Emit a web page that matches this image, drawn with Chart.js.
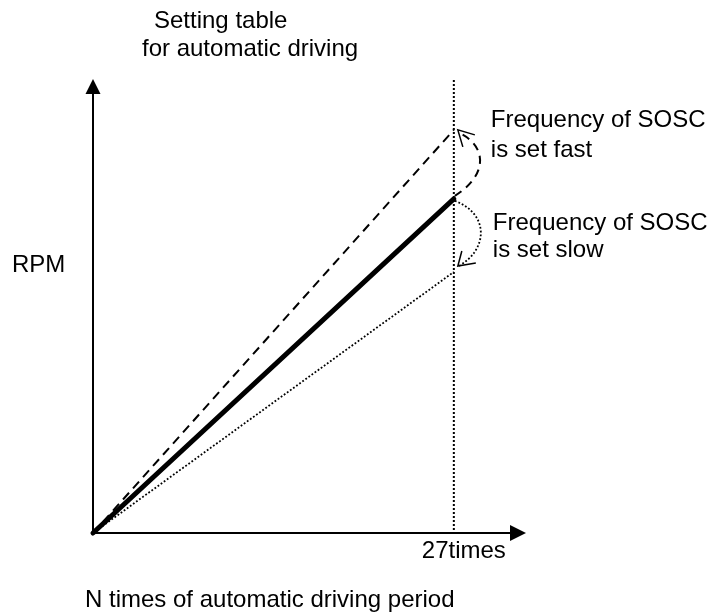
<!DOCTYPE html>
<html>
<head>
<meta charset="utf-8">
<title>RPM vs N times of automatic driving period</title>
<script src="https://cdn.jsdelivr.net/npm/chart.js@4.4.1/dist/chart.umd.min.js"></script>
<style>
  html, body { margin: 0; padding: 0; background: #fff; }
  canvas { display: block; }
</style>
</head>
<body>
<canvas id="chart" width="709" height="615"></canvas>
<script>
// ------------------------
// Data
// ------------------------
const nTimes = [0, 27];          // N times of automatic driving period
const rpmTable = [0, 73.6];      // setting table (thick solid)
const rpmFast = [0, 88.8];       // SOSC set fast (dashed)
const rpmSlow = [0, 57.5];       // SOSC set slow (dotted)
const xTickLabels = ['27times'];

const FONT = '24px "Liberation Sans", Arial, sans-serif';
const toPoints = ys => nTimes.map((x, i) => ({ x, y: ys[i] }));

// ------------------------
// Axes, arrows, notes
// ------------------------
const sketchPlugin = {
  id: 'sketch',
  beforeDatasetsDraw(chart) {
    const { ctx, chartArea, scales } = chart;
    const xs = scales.x, ys = scales.y;
    const x0 = xs.getPixelForValue(0), y0 = ys.getPixelForValue(0);
    const x27 = xs.getPixelForValue(nTimes[1]);

    ctx.save();
    // vertical dotted marker at 27 times
    ctx.strokeStyle = '#000';
    ctx.lineWidth = 2;
    ctx.setLineDash([2, 2]);
    ctx.beginPath();
    ctx.moveTo(x27, chartArea.top + 1);
    ctx.lineTo(x27, y0);
    ctx.stroke();
    ctx.setLineDash([]);

    // axes
    ctx.lineWidth = 2;
    ctx.beginPath();
    ctx.moveTo(x0, y0);
    ctx.lineTo(x0, chartArea.top + 10);
    ctx.moveTo(x0, y0);
    ctx.lineTo(chartArea.right - 10, y0);
    ctx.stroke();

    ctx.fillStyle = '#000';
    ctx.beginPath();
    ctx.moveTo(x0, chartArea.top);
    ctx.lineTo(x0 - 7.5, chartArea.top + 15);
    ctx.lineTo(x0 + 7.5, chartArea.top + 15);
    ctx.closePath();
    ctx.fill();
    ctx.beginPath();
    ctx.moveTo(chartArea.right, y0);
    ctx.lineTo(chartArea.right - 16, y0 - 8);
    ctx.lineTo(chartArea.right - 16, y0 + 8);
    ctx.closePath();
    ctx.fill();
    ctx.restore();
  },
  afterDraw(chart) {
    const { ctx, scales } = chart;
    const xs = scales.x, ys = scales.y;
    const x0 = xs.getPixelForValue(0), y0 = ys.getPixelForValue(0);
    const x27 = xs.getPixelForValue(nTimes[1]);
    const yMid = ys.getPixelForValue(rpmTable[1]);
    const yFast = ys.getPixelForValue(rpmFast[1]);
    const ySlow = ys.getPixelForValue(rpmSlow[1]);

    ctx.save();
    ctx.strokeStyle = '#000';
    ctx.lineWidth = 2;

    // curved arrow up (dashed)
    ctx.setLineDash([8, 6]);
    ctx.beginPath();
    ctx.moveTo(x27 + 1, yMid - 3);
    ctx.bezierCurveTo(x27 + 36, yMid - 25, x27 + 32, yFast + 15, x27 + 5, yFast + 3);
    ctx.stroke();
    ctx.setLineDash([]);
    ctx.lineWidth = 1.5;
    ctx.beginPath();
    ctx.moveTo(x27 + 21, yFast + 5);
    ctx.lineTo(x27 + 4, yFast);
    ctx.lineTo(x27 + 9, yFast + 17);
    ctx.stroke();

    // curved arrow down (dotted)
    ctx.lineWidth = 1.8;
    ctx.setLineDash([1.8, 2]);
    ctx.beginPath();
    ctx.moveTo(x27 + 1, yMid + 2);
    ctx.bezierCurveTo(x27 + 36, yMid + 15, x27 + 34, ySlow - 22, x27 + 5, ySlow - 6);
    ctx.stroke();
    ctx.setLineDash([]);
    ctx.lineWidth = 1.5;
    ctx.beginPath();
    ctx.moveTo(x27 + 22, ySlow - 9);
    ctx.lineTo(x27 + 4, ySlow - 6);
    ctx.lineTo(x27 + 8, ySlow - 21);
    ctx.stroke();

    // texts
    ctx.fillStyle = '#000';
    ctx.font = FONT;
    ctx.textBaseline = 'alphabetic';
    ctx.textAlign = 'left';
    ctx.fillText('Setting table', x0 + 61, 28);
    ctx.fillText('for automatic driving', x0 + 49, 56);
    ctx.fillText('RPM', 12, 272);
    ctx.fillText('Frequency of SOSC', x27 + 37, yFast - 3);
    ctx.fillText('is set fast', x27 + 37, yFast + 27);
    ctx.fillText('Frequency of SOSC', x27 + 39, yMid + 31);
    ctx.fillText('is set slow', x27 + 39, yMid + 58);
    ctx.fillText(xTickLabels[0], x27 - 32, y0 + 25);
    ctx.fillText('N times of automatic driving period', 85, 607);
    ctx.restore();
  }
};

new Chart(document.getElementById('chart'), {
  type: 'scatter',
  data: {
    datasets: [
      {
        label: 'Setting table',
        data: toPoints(rpmTable),
        showLine: true,
        borderColor: '#000',
        borderWidth: 5,
        borderCapStyle: 'round',
        pointRadius: 0
      },
      {
        label: 'Fast',
        data: toPoints(rpmFast),
        showLine: true,
        borderColor: '#000',
        borderWidth: 2,
        borderDash: [9, 6],
        pointRadius: 0
      },
      {
        label: 'Slow',
        data: toPoints(rpmSlow),
        showLine: true,
        borderColor: '#000',
        borderWidth: 1.8,
        borderDash: [1.8, 2],
        pointRadius: 0
      }
    ]
  },
  options: {
    responsive: false,
    animation: false,
    clip: false,
    layout: { padding: { left: 93, right: 183, top: 79, bottom: 82 } },
    plugins: { legend: { display: false }, tooltip: { enabled: false } },
    scales: {
      x: { type: 'linear', min: 0, max: 32.4, display: false },
      y: { type: 'linear', min: 0, max: 100, display: false }
    }
  },
  plugins: [sketchPlugin]
});
</script>
</body>
</html>
